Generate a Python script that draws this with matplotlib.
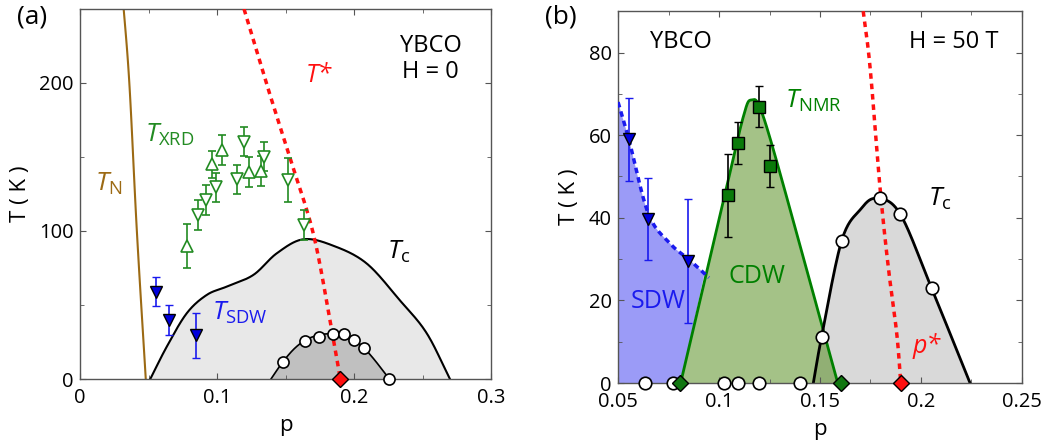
import numpy as np
import matplotlib
matplotlib.use("Agg")
import matplotlib.pyplot as plt
from matplotlib.ticker import MultipleLocator

plt.rcParams['font.family'] = ['Open Sans', 'DejaVu Sans']
plt.rcParams['mathtext.fontset'] = 'custom'
plt.rcParams['mathtext.rm'] = 'Open Sans'
plt.rcParams['mathtext.it'] = 'Open Sans:italic'

# ---------------- panel (a) data, H = 0 ----------------
tn_p = [0.031, 0.036, 0.0415, 0.048]
tn_T = [260, 200, 100, 0]

tstar_p = [0.1197, 0.136, 0.153, 0.1698, 0.1813, 0.19]
tstar_T = [250, 200, 150, 100, 46, 0]

tc0_p = [0.0513, 0.0633, 0.0779, 0.0925, 0.107, 0.1265, 0.1436, 0.163, 0.185, 0.2093, 0.2336, 0.253, 0.27]
tc0_T = [0, 21.8, 44.4, 56.8, 62.4, 70.3, 84.9, 94.4, 90, 78, 53, 31, 0]

dome_p = [0.1394, 0.148, 0.157, 0.166, 0.176, 0.186, 0.196, 0.205, 0.214, 0.2258]
dome_T = [0, 11.5, 21, 27, 30, 30.5, 28.5, 23, 14, 0]

hc_p = [0.148, 0.164, 0.1747, 0.1844, 0.1927, 0.2003, 0.2073, 0.2255]
hc_T = [11.7, 25.9, 28.6, 30.4, 30.2, 26.4, 20.7, 0]

xrd_up_p = [0.0779, 0.0961, 0.104, 0.123, 0.132]
xrd_up_T = [90, 145, 154.7, 140, 140.5]
xrd_up_err = [15, 9, 10, 10, 10]

xrd_dn_p = [0.0864, 0.092, 0.099, 0.1144, 0.120, 0.134, 0.152, 0.1635]
xrd_dn_T = [110.8, 121, 129.5, 134.9, 160.4, 150.2, 134.5, 104]
xrd_dn_err = [10, 10, 10, 10, 10, 10, 15, 10]

sdw_p = [0.0553, 0.065, 0.0847]
sdw_T = [59, 39.7, 29.5]
sdw_err = [10, 10, 15]

pstar = 0.19

# ---------------- panel (b) data, H = 50 T ----------------
sdw_line_p = [0.05, 0.0555, 0.065, 0.0757, 0.0856, 0.095]
sdw_line_T = [68, 58.7, 41, 33.8, 29.7, 25.5]

cdw_p = [0.081, 0.0922, 0.1038, 0.112, 0.116, 0.122, 0.1385, 0.1516, 0.1588]
cdw_T = [0, 23.3, 47.5, 64.4, 68.5, 64.4, 36.2, 12.8, 0]

nmr_p = [0.1045, 0.1092, 0.12, 0.1252]
nmr_T = [45.4, 58.1, 66.9, 52.5]
nmr_err = [10, 5, 5, 5]

zero_p = [0.0634, 0.0774, 0.1026, 0.1092, 0.12, 0.1401]

tc50_p = [0.1467, 0.1508, 0.1607, 0.170, 0.178, 0.1896, 0.2053, 0.2243]
tc50_T = [0, 11.2, 34.4, 42, 44.7, 41, 22.9, 0]

tc50_pts_p = [0.1508, 0.1607, 0.1797, 0.1896, 0.2053]
tc50_pts_T = [11.2, 34.4, 44.9, 41, 22.9]

pstar_b_p = [0.1714, 0.1748, 0.1797, 0.1838, 0.188, 0.19]
pstar_b_T = [90, 76.4, 47.4, 28.1, 12, 0]

cdw_ends = [0.0805, 0.1602]


# Catmull-Rom curve through the given control points
def smooth(xs, ys, n=30):
    pts = np.column_stack([xs, ys]).astype(float)
    p = np.vstack([2 * pts[0] - pts[1], pts, 2 * pts[-1] - pts[-2]])
    t = np.linspace(0, 1, n, endpoint=False)[:, None]
    out = []
    for i in range(1, len(p) - 2):
        p0, p1, p2, p3 = p[i - 1], p[i], p[i + 1], p[i + 2]
        seg = 0.5 * (2 * p1 + (-p0 + p2) * t + (2 * p0 - 5 * p1 + 4 * p2 - p3) * t ** 2
                     + (-p0 + 3 * p1 - 3 * p2 + p3) * t ** 3)
        out.append(seg)
    out.append(pts[-1:])
    c = np.vstack(out)
    return c[:, 0], c[:, 1]


def style_axes(ax):
    for s in ax.spines.values():
        s.set_color('#555555')
        s.set_linewidth(1)
    ax.tick_params(which='both', direction='in', top=True, right=True, color='#555555',
                   labelsize=14.5)
    ax.tick_params(which='major', length=4)
    ax.tick_params(which='minor', length=3)
    ax.tick_params(axis='x', pad=6.5)
    ax.tick_params(axis='y', pad=4.5)


RED = '#ff1010'
GREEN = '#228b22'
BLUE = '#1a1aee'
LAB = 16
ANN = 19

fig = plt.figure(figsize=(10.61, 4.48), dpi=100)

# ---------------- (a) ----------------
ax = fig.add_axes([0.0754, 0.154, 0.3874, 0.826])
style_axes(ax)

x, y = smooth(tc0_p, tc0_T)
ax.fill(x, y, color='#e8e8e8', zorder=1)
ax.plot(x, y, color='black', lw=1.5, zorder=2)

x, y = smooth(dome_p, dome_T)
ax.fill(x, y, color='#c0c0c0', zorder=1.5)
ax.plot(x, y, color='black', lw=1.2, zorder=2)

x, y = smooth(tn_p, tn_T)
ax.plot(x, y, color='#9c6a14', lw=1.5, zorder=2)

x, y = smooth(tstar_p, tstar_T)
ax.plot(x, y, color=RED, lw=2.5, ls=(0, (1.6, 1.4)), zorder=3)

ax.errorbar(xrd_up_p, xrd_up_T, yerr=xrd_up_err, fmt='^', ms=8, mfc='white', mec=GREEN,
            ecolor=GREEN, elinewidth=1.2, capsize=3, capthick=1.2, mew=1.2, zorder=4)
ax.errorbar(xrd_dn_p, xrd_dn_T, yerr=xrd_dn_err, fmt='v', ms=8, mfc='white', mec=GREEN,
            ecolor=GREEN, elinewidth=1.2, capsize=3, capthick=1.2, mew=1.2, zorder=4)
ax.errorbar(sdw_p, sdw_T, yerr=sdw_err, fmt='v', ms=8, mfc='#0000dd', mec='black',
            ecolor=BLUE, elinewidth=1.2, capsize=3, capthick=1.2, mew=1, zorder=4)

ax.plot(hc_p, hc_T, 'o', ms=8, mfc='white', mec='black', mew=1.2, zorder=5, clip_on=False)
ax.plot([pstar], [0], 'D', ms=8, mfc=RED, mec='black', mew=1, zorder=6, clip_on=False)

ax.set_xlim(0, 0.3)
ax.set_ylim(0, 250)
ax.set_xticks([0, 0.1, 0.2, 0.3])
ax.set_xticklabels(['0', '0.1', '0.2', '0.3'])
ax.xaxis.set_minor_locator(MultipleLocator(0.05))
ax.yaxis.set_major_locator(MultipleLocator(100))
ax.yaxis.set_minor_locator(MultipleLocator(50))
ax.set_xlabel('p', fontsize=LAB, labelpad=5)
ax.set_ylabel('T ( K )', fontsize=LAB, labelpad=6)

ax.text(0.256, 216, 'YBCO\nH = 0', fontsize=17, ha='center', va='center', linespacing=1.1)
ax.text(0.174, 205, 'T*', fontsize=18, style='italic', color=RED, ha='center', va='center')
ax.text(0.0474, 160, r'$T_{\rm XRD}$', fontsize=ANN, color=GREEN, ha='left', va='baseline')
ax.text(0.011, 127, r'$T_{\rm N}$', fontsize=ANN, color='#9c6a14', ha='left', va='baseline')
ax.text(0.224, 81.5, r'$T_{\rm c}$', fontsize=ANN, color='black', ha='left', va='baseline')
ax.text(0.0966, 40, r'$T_{\rm SDW}$', fontsize=ANN, color=BLUE, ha='left', va='baseline')

# ---------------- (b) ----------------
ax = fig.add_axes([0.5825, 0.145, 0.3807, 0.830])
style_axes(ax)

sx, sy = smooth(sdw_line_p, sdw_line_T)
keep = sx <= 0.093
ax.fill(np.r_[sx[keep], cdw_p[0], sdw_line_p[0]], np.r_[sy[keep], 0, 0],
        color='#9b9bf7', lw=0, zorder=1)

x, y = smooth(tc50_p, tc50_T)
ax.fill(x, y, color='#d9d9d9', lw=0, zorder=1.2)
tcx, tcy = x, y

x, y = smooth(cdw_p, cdw_T)
ax.fill(x, y, color='#4b8711', alpha=0.5, lw=0, zorder=1.5)
ax.plot(x, y, color='#008000', lw=2, zorder=2)
ax.plot(tcx, tcy, color='black', lw=2, zorder=2.1)

ax.plot(sx, sy, color=BLUE, lw=2.5, ls=(0, (1.6, 1.2)), zorder=3)

x, y = smooth(pstar_b_p, pstar_b_T)
ax.plot(x, y, color=RED, lw=2.5, ls=(0, (1.6, 1.4)), zorder=3)

ax.errorbar(sdw_p, sdw_T, yerr=sdw_err, fmt='v', ms=8, mfc='#0000dd', mec='black',
            ecolor=BLUE, elinewidth=1.2, capsize=3, capthick=1.2, mew=1, zorder=4)
ax.errorbar(nmr_p, nmr_T, yerr=nmr_err, fmt='s', ms=9, mfc='#0a7a0a', mec='black',
            ecolor='black', elinewidth=1.2, capsize=3, capthick=1.2, mew=1, zorder=4)

ax.plot(zero_p, np.zeros(len(zero_p)), 'o', ms=9, mfc='white', mec='black', mew=1.2,
        zorder=5, clip_on=False)
ax.plot(tc50_pts_p, tc50_pts_T, 'o', ms=9, mfc='white', mec='black', mew=1.2, zorder=5)
ax.plot(cdw_ends, np.zeros(len(cdw_ends)), 'D', ms=8, mfc='#117711', mec='black', mew=1,
        zorder=6, clip_on=False)
ax.plot([pstar], [0], 'D', ms=8, mfc=RED, mec='black', mew=1, zorder=6, clip_on=False)

ax.set_xlim(0.05, 0.25)
ax.set_ylim(0, 90)
ax.set_xticks([0.05, 0.1, 0.15, 0.2, 0.25])
ax.set_xticklabels(['0.05', '0.1', '0.15', '0.2', '0.25'])
ax.xaxis.set_minor_locator(MultipleLocator(0.025))
ax.yaxis.set_major_locator(MultipleLocator(20))
ax.yaxis.set_minor_locator(MultipleLocator(10))
ax.set_xlabel('p', fontsize=LAB, labelpad=5)
ax.set_ylabel('T ( K )', fontsize=LAB, labelpad=6)

ax.text(0.0811, 82.5, 'YBCO', fontsize=17, ha='center', va='center')
ax.text(0.216, 82.5, 'H = 50 T', fontsize=17, ha='center', va='center')
ax.text(0.1327, 66.6, r'$T_{\rm NMR}$', fontsize=ANN, color='#008000', ha='left', va='baseline')
ax.text(0.1188, 25.7, 'CDW', fontsize=18, color='#008000', ha='center', va='center')
ax.text(0.0697, 19.7, 'SDW', fontsize=18, color=BLUE, ha='center', va='center')
ax.text(0.2036, 43, r'$T_{\rm c}$', fontsize=ANN, color='black', ha='left', va='baseline')
ax.text(0.1959, 7.2, 'p*', fontsize=18, style='italic', color=RED, ha='left', va='baseline')

fig.text(32 / 1061, 1 - 17 / 448, '(a)', fontsize=19, ha='center', va='center')
fig.text(561 / 1061, 1 - 17 / 448, '(b)', fontsize=19, ha='center', va='center')

fig.savefig('out.png', dpi=100)
